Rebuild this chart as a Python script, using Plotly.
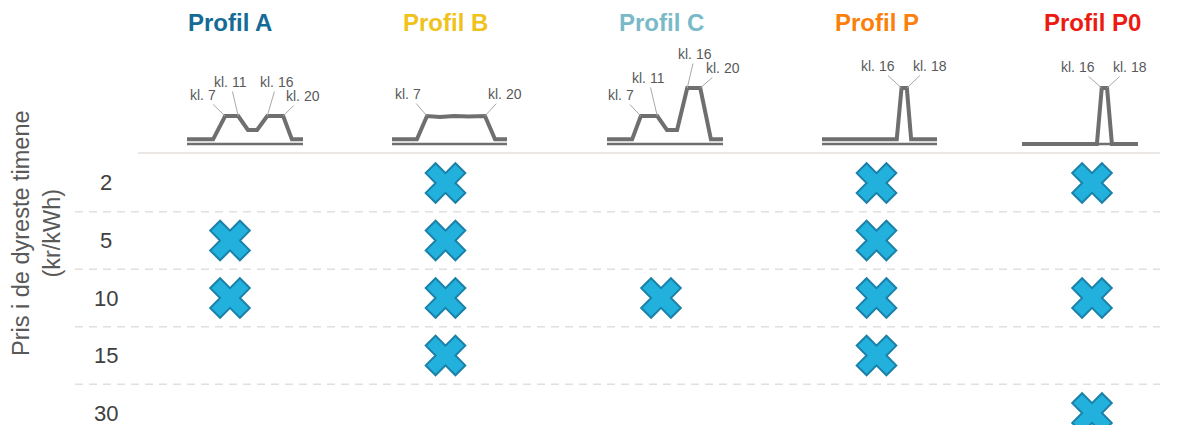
import plotly.graph_objects as go

# ---------------- data ----------------
profiles = ["Profil A", "Profil B", "Profil C", "Profil P", "Profil P0"]
price_levels = ["2", "5", "10", "15", "30"]

# price levels (kr/kWh) tested for each profile
prices_A = ["5", "10"]
prices_B = ["2", "5", "10", "15"]
prices_C = ["10"]
prices_P = ["2", "5", "10", "15"]
prices_P0 = ["2", "10", "30"]

# sketch of each load profile: hour of day vs relative load
hours_A = [0, 5.4, 7.9, 10.6, 12.6, 14.5, 16.6, 19.9, 21.7, 24]
load_A = [1, 1, 6, 6, 3, 3, 6, 6, 1, 1]
hours_B = [0, 5.2, 7.3, 10.0, 13.0, 16.0, 19.4, 21.5, 24]
load_B = [1, 1, 6, 5.8, 6, 5.9, 6, 1, 1]
hours_C = [0, 5.2, 7.0, 10.4, 12.4, 14.5, 16.6, 19.3, 21.5, 24]
load_C = [1, 1, 6, 6, 3, 3, 12, 12, 1, 1]
hours_P = [0, 15.6, 16.6, 17.7, 18.6, 24]
load_P = [1, 1, 12, 12, 1, 1]
hours_P0 = [0, 15.5, 16.5, 17.6, 18.6, 24]
load_P0 = [0, 0, 12, 12, 0, 0]
base_hours = [0, 24]
base_load = [0, 0]

# hour labels and the sketch vertex each one points to
labels_A = ["kl. 7", "kl. 11", "kl. 16", "kl. 20"]
label_idx_A = [2, 3, 6, 7]
labels_B = ["kl. 7", "kl. 20"]
label_idx_B = [2, 6]
labels_C = ["kl. 7", "kl. 11", "kl. 16", "kl. 20"]
label_idx_C = [2, 3, 6, 7]
labels_P = ["kl. 16", "kl. 18"]
label_idx_P = [2, 3]
labels_P0 = ["kl. 16", "kl. 18"]
label_idx_P0 = [2, 3]

# ---------------- styling / layout ----------------
OFF = 8                      # page body margin
W, H = 1177 - OFF, 425 - OFF  # figure size
def px(v):                   # page pixel -> figure pixel
    return v - OFF

ML = px(138)
MR = W - px(1160)
PW = W - ML - MR

title_colors = ["#156b97", "#f0c21c", "#79b9c8", "#fb7f0c", "#ec1a10"]
mark_fill = "#22b0dd"
mark_line = "#1a81a9"
sketch_color = "#6f6f6f"
grid_color = "#e4dfdb"

# page-pixel extents of each sketch and label offsets (pixels)
sketch_px = [(187, 303), (392, 507), (607, 723), (822, 937), (1022, 1138)]
offsets = [
    [(-22, -21), (-8, -34), (10, -34), (20, -20)],
    [(-19, -22), (20, -22)],
    [(-20, -21), (-9, -38), (8, -34), (23, -20)],
    [(-24, -22), (23, -22)],
    [(-24, -21), (23, -21)],
]

prices_all = [prices_A, prices_B, prices_C, prices_P, prices_P0]
hours_all = [hours_A, hours_B, hours_C, hours_P, hours_P0]
load_all = [load_A, load_B, load_C, load_P, load_P0]
labels_all = [labels_A, labels_B, labels_C, labels_P, labels_P0]
idx_all = [label_idx_A, label_idx_B, label_idx_C, label_idx_P, label_idx_P0]

FONT = "Liberation Sans, Arial, sans-serif"

def fy(page_y):              # page y -> paper fraction
    return (H - px(page_y)) / H
def fx(page_x):              # page x -> paper fraction
    return (px(page_x) - ML) / PW

fig = go.Figure()

# main grid of markers
for prof, prices in zip(profiles, prices_all):
    fig.add_trace(go.Scatter(
        x=[prof] * len(prices), y=prices, mode="markers",
        marker=dict(symbol="x", size=35, color=mark_fill,
                    line=dict(color=mark_line, width=2)),
        xaxis="x", yaxis="y", hoverinfo="skip"))

# row geometry (page px): first row centre 183, last 413
row0, rowN = 183, 413
row_step = (rowN - row0) / (len(price_levels) - 1)
main_top = fy(153)
y_range = [(425 - row0) / row_step, (153 - row0) / row_step]

# column geometry (page px): first col 230, last 1092
col0, colN = 230, 1092
col_step = (colN - col0) / (len(profiles) - 1)
x_range = [(138 - col0) / col_step, (1160 - col0) / col_step]

# sketches
sk_bottom, sk_top = 150, 46
px_per_unit = 56 / 12.0
baseline = 144
y_lo = -(sk_bottom - baseline) / px_per_unit
y_hi = (baseline - sk_top) / px_per_unit

annotations = []
layout_axes = {}
for i in range(5):
    n = i + 2
    xa, ya = f"x{n}", f"y{n}"
    x0, x1 = sketch_px[i]
    layout_axes[f"xaxis{n}"] = dict(domain=[fx(x0), fx(x1)], range=[0, 24],
                                    visible=False, anchor=ya, fixedrange=True)
    layout_axes[f"yaxis{n}"] = dict(domain=[fy(sk_bottom), fy(sk_top)],
                                    range=[y_lo, y_hi], visible=False,
                                    anchor=xa, fixedrange=True)
    fig.add_trace(go.Scatter(x=base_hours, y=base_load, mode="lines",
                             line=dict(color=sketch_color, width=2.5),
                             xaxis=xa, yaxis=ya, hoverinfo="skip", cliponaxis=False))
    fig.add_trace(go.Scatter(x=hours_all[i], y=load_all[i], mode="lines",
                             line=dict(color=sketch_color, width=4),
                             xaxis=xa, yaxis=ya, hoverinfo="skip", cliponaxis=False))
    for lab, k, (ax, ay) in zip(labels_all[i], idx_all[i], offsets[i]):
        annotations.append(dict(
            xref=xa, yref=ya, x=hours_all[i][k], y=load_all[i][k], text=lab,
            showarrow=True, arrowhead=0, arrowwidth=1, arrowcolor="#a8a8a8",
            ax=ax, ay=ay, standoff=0,
            font=dict(family=FONT, size=14, color="#595959")))

# column titles
for k, (prof, col) in enumerate(zip(profiles, title_colors)):
    annotations.append(dict(xref="x", yref="paper", x=k, y=fy(22),
                            text=f"<b>{prof}</b>", showarrow=False,
                            xanchor="center", yanchor="middle",
                            font=dict(family=FONT, size=24, color=col)))

# row labels
for k, p in enumerate(price_levels):
    annotations.append(dict(xref="paper", yref="y", x=fx(106), y=k,
                            text=p, showarrow=False, xanchor="center",
                            yanchor="middle",
                            font=dict(family=FONT, size=22, color="#404040")))

# axis title
annotations.append(dict(xref="paper", yref="paper", x=fx(36), y=fy(233),
                        text="Pris i de dyreste timene<br>(kr/kWh)",
                        textangle=-90, showarrow=False, xanchor="center",
                        yanchor="middle",
                        font=dict(family=FONT, size=23.5, color="#595959")))

shapes = [dict(type="line", xref="paper", yref="paper", x0=0, x1=1,
               y0=main_top, y1=main_top,
               line=dict(color=grid_color, width=1.5))]
for k in range(len(price_levels) - 1):
    shapes.append(dict(type="line", xref="paper", yref="y",
                       x0=fx(75), x1=1, y0=k + 0.5, y1=k + 0.5,
                       line=dict(color=grid_color, width=1.5, dash="8px,6px"),
                       layer="below"))

fig.update_layout(
    width=W, height=H,
    margin=dict(l=ML, r=MR, t=0, b=0),
    paper_bgcolor="white", plot_bgcolor="white",
    showlegend=False,
    xaxis=dict(type="category", categoryorder="array", categoryarray=profiles,
               range=x_range, showticklabels=False, showgrid=False,
               zeroline=False, showline=False, ticks="", fixedrange=True),
    yaxis=dict(type="category", categoryorder="array", categoryarray=price_levels,
               domain=[0, main_top], range=y_range, showticklabels=False,
               showgrid=False, zeroline=False, showline=False, ticks="",
               fixedrange=True),
    annotations=annotations,
    shapes=shapes,
    **layout_axes,
)

fig.write_html("out.html")
